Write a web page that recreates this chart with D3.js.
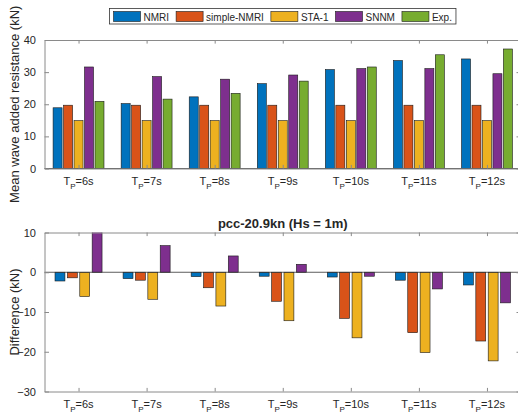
<!DOCTYPE html>
<html><head><meta charset="utf-8">
<script src="https://cdn.jsdelivr.net/npm/d3@7"></script>
<style>
body{margin:0;background:#fff;}
svg text{font-family:"Liberation Sans",Arial,Helvetica,sans-serif;fill:#262626;}
</style></head>
<body><svg id="c" width="518" height="416"></svg>
<script>
const periods = ["6s","7s","8s","9s","10s","11s","12s"];
const seriesNames = ["NMRI","simple-NMRI","STA-1","SNNM","Exp."];
const colors = ["#0072BD","#D95319","#EDB120","#7E2F8E","#77AC30"];
const nmri   = [18.9, 20.2, 22.3, 26.4, 30.8, 33.6, 34.1];
const simple = [19.7, 19.7, 19.7, 19.7, 19.7, 19.7, 19.7];
const sta1   = [14.9, 14.9, 14.9, 14.9, 14.9, 14.9, 14.9];
const snnm   = [31.6, 28.6, 27.8, 29.1, 31.1, 31.1, 29.5];
const expv   = [20.9, 21.6, 23.4, 27.2, 31.6, 35.4, 37.2];
const dNmri   = [-2.2, -1.6, -1.1, -1.0, -1.2, -2.0, -3.2];
const dSimple = [-1.4, -2.0, -3.9, -7.3, -11.6, -15.2, -17.3];
const dSta1   = [-6.1, -6.8, -8.5, -12.2, -16.5, -20.2, -22.3];
const dSnnm   = [10.7, 6.7, 4.1, 2.0, -1.0, -4.2, -7.7];
const topTicks = [0,10,20,30,40];
const botTicks = [-30,-20,-10,0,10];
const titleBottom = "pcc-20.9kn (Hs = 1m)";
const ylabTop = "Mean wave added resistance (kN)";
const ylabBot = "Difference (kN)";

const svg = d3.select("#c");
const L = 44.5, R = 521;
const x = d3.scaleLinear().domain([0.5, 7.5]).range([L, R]);
const axisColor = "#8a8a8a";

function panel(top, bottom, domain, ticks, series, cols, label) {
  const y = d3.scaleLinear().domain(domain).range([bottom, top]);
  const g = svg.append("g");
  const id = "clip" + Math.round(top);
  svg.append("clipPath").attr("id", id).append("rect")
    .attr("x", L).attr("y", top).attr("width", R - L).attr("height", bottom - top);
  const n = series.length;
  const gw = Math.min(0.8, n / (n + 1.5));
  const slot = gw / n;
  const bw = slot * (n === 5 ? 0.86 : 0.8);
  const bars = g.append("g").attr("clip-path", `url(#${id})`);
  series.forEach((vals, si) => {
    vals.forEach((v, ci) => {
      const xc = (ci + 1) + (si - (n - 1) / 2) * slot;
      const x0 = x(xc - bw / 2), x1 = x(xc + bw / 2);
      const y0 = y(0), y1 = y(v);
      bars.append("rect")
        .attr("x", x0).attr("width", x1 - x0)
        .attr("y", Math.min(y0, y1)).attr("height", Math.abs(y1 - y0))
        .attr("fill", cols[si]).attr("stroke", "#1a1a1a").attr("stroke-width", 0.6);
    });
  });
  // baseline
  g.append("line").attr("x1", L).attr("x2", R).attr("y1", y(0)).attr("y2", y(0))
    .attr("stroke", "#333").attr("stroke-width", 0.8);
  // axes
  const tl = 4.5;
  const ax = (sel) => { sel.selectAll(".domain").attr("stroke", axisColor); sel.selectAll(".tick line").attr("stroke", axisColor); };
  const left = g.append("g").attr("transform", `translate(${L},0)`)
    .call(d3.axisLeft(y).tickValues(ticks).tickSizeInner(-tl).tickSizeOuter(0).tickPadding(4 + tl));
  ax(left);
  left.selectAll(".tick text").style("font-size", "11px").attr("fill", "#262626");
  const right = g.append("g").attr("transform", `translate(${R},0)`)
    .call(d3.axisRight(y).tickValues(ticks).tickSizeInner(-tl).tickSizeOuter(0).tickFormat(""));
  ax(right);
  const cats = d3.range(1, 8);
  const topA = g.append("g").attr("transform", `translate(0,${top})`)
    .call(d3.axisTop(x).tickValues(cats).tickSizeInner(-tl * 0.8).tickSizeOuter(0).tickFormat(""));
  ax(topA);
  const botA = g.append("g").attr("transform", `translate(0,${bottom})`)
    .call(d3.axisBottom(x).tickValues(cats).tickSizeInner(-tl * 0.8).tickSizeOuter(0).tickFormat(""));
  ax(botA);
  // category labels
  periods.forEach((p, i) => {
    const t = g.append("text").attr("x", x(i + 1)).attr("y", bottom + 16.5)
      .attr("text-anchor", "middle").style("font-size", "11px");
    t.append("tspan").text("T");
    t.append("tspan").text("P").style("font-size", "8px").attr("dy", 3.5);
    t.append("tspan").text("=" + p).attr("dy", -3.5);
  });
  // y label
  g.append("text").attr("transform", `translate(14,${(top + bottom) / 2}) rotate(-90)`)
    .attr("text-anchor", "middle").attr("dy", "0.35em").style("font-size", "13px").text(label);
  return y;
}

panel(40, 168.5, [0, 40], topTicks, [nmri, simple, sta1, snnm, expv], colors, ylabTop);
panel(232.5, 391.5, [-30, 10], botTicks, [dNmri, dSimple, dSta1, dSnnm], colors.slice(0, 4), ylabBot);

// title of bottom panel
svg.append("text").attr("x", (L + R) / 2).attr("y", 228).attr("text-anchor", "middle")
  .style("font-size", "13px").style("font-weight", "bold").attr("fill", "#000").text(titleBottom);

// legend
const lg = svg.append("g");
const sw = 27, gapT = 3, gapI = 7, padL = 4, padR = 4;
let cx = 0;
const items = [];
seriesNames.forEach((name, i) => {
  const it = lg.append("g");
  it.append("rect").attr("x", cx).attr("y", 11.5).attr("width", sw).attr("height", 10)
    .attr("fill", colors[i]).attr("stroke", "#1a1a1a").attr("stroke-width", 0.6);
  const t = it.append("text").attr("x", cx + sw + gapT).attr("y", 20.5)
    .style("font-size", "10px").text(name);
  const w = t.node().getComputedTextLength();
  cx += sw + gapT + w + gapI;
});
const totalW = cx - gapI + padL + padR;
const bx = (L + R) / 2 - totalW / 2;
lg.insert("rect", ":first-child").attr("x", -padL).attr("y", 8.5).attr("width", totalW).attr("height", 15.5)
  .attr("fill", "#fff").attr("stroke", "#333").attr("stroke-width", 0.8);
lg.attr("transform", `translate(${bx + padL},0)`);
</script></body></html>
